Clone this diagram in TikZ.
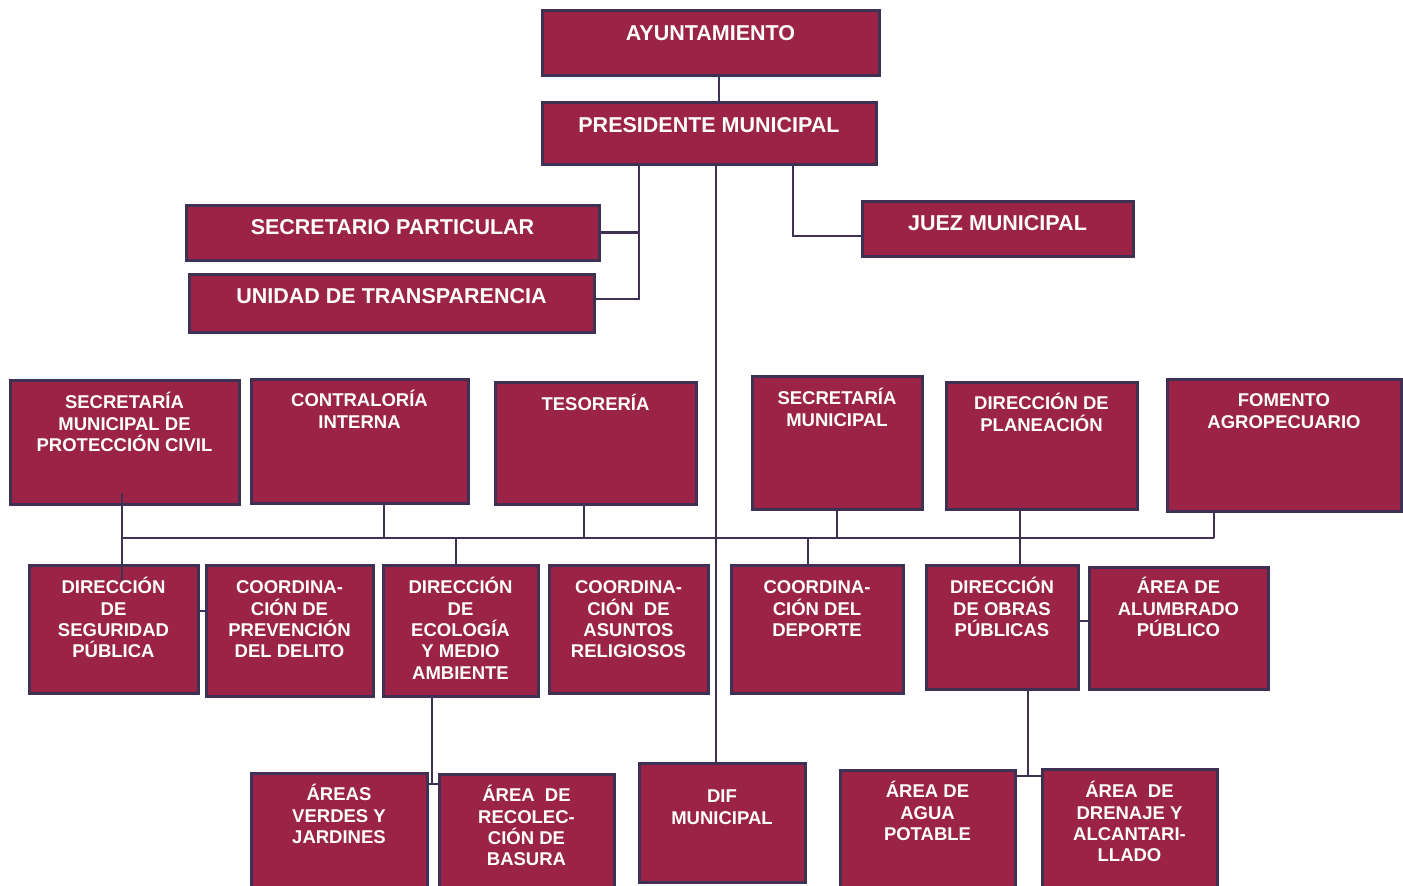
\documentclass[tikz,border=0pt]{standalone}
\usepackage{fontspec}
\setmainfont{Liberation Sans}
\definecolor{boxfill}{HTML}{9B2346}
\definecolor{edgecol}{HTML}{3F3154}
\tikzset{
  orgbox/.style={draw=edgecol, fill=boxfill, line width=3pt, inner sep=0pt, outer sep=0pt},
  lbl/.style={text=white, font=\bfseries\fontsize{18.5}{21.3}\selectfont, align=center, inner sep=0pt, anchor=north},
  biglbl/.style={text=white, font=\bfseries\fontsize{21.5}{25}\selectfont, align=center, inner sep=0pt, anchor=north},
  conn/.style={draw=edgecol, line width=2.8pt}
}
\newcommand\obox[7]{%
  \node[orgbox, minimum width={#4-#2}, minimum height={#5-#3}] (#1) at ({(#2+#4)/2},{(#3+#5)/2}) {};
  \node[lbl] (#1-t) at ({(#2+#4)/2},{#6-11.4}) {\rule{0pt}{18pt}#7};
}
\newcommand\bigobox[7]{%
  \node[orgbox, minimum width={#4-#2}, minimum height={#5-#3}] (#1) at ({(#2+#4)/2},{(#3+#5)/2}) {};
  \node[biglbl] (#1-t) at ({(#2+#4)/2},{#6-13.3}) {\rule{0pt}{21pt}#7};
}
\begin{document}
\begin{tikzpicture}[x=1pt,y=-1pt]
\useasboundingbox (0,0) rectangle (1403,886);
\fill[white] (0,0) rectangle (1403,886);
% top
\bigobox{ayu}{542}{10}{879}{75}{33}{AYUNTAMIENTO}
\bigobox{pres}{542}{102}{876}{164}{125}{PRESIDENTE MUNICIPAL}
\bigobox{secp}{186}{205}{599}{260}{227}{SECRETARIO PARTICULAR}
\bigobox{unid}{189}{274}{594}{332}{296}{UNIDAD DE TRANSPARENCIA}
\bigobox{juez}{862}{201}{1133}{256}{223}{JUEZ MUNICIPAL}
% row 2
\obox{pc}{10}{380}{239}{504}{402}{SECRETARÍA\\MUNICIPAL DE\\PROTECCIÓN CIVIL}
\obox{contra}{251}{379}{468}{503}{400}{CONTRALORÍA\\INTERNA}
\obox{teso}{495}{382}{696}{504}{404}{TESORERÍA}
\obox{secm}{752}{376}{922}{509}{398}{SECRETARÍA\\MUNICIPAL}
\obox{plan}{946}{382}{1137}{509}{403}{DIRECCIÓN DE\\PLANEACIÓN}
\obox{fom}{1167}{379}{1401}{511}{400}{FOMENTO\\AGROPECUARIO}
% row 3
\obox{seg}{29}{565}{198}{693}{587}{DIRECCIÓN\\DE\\SEGURIDAD\\PÚBLICA}
\obox{prev}{206}{565}{373}{696}{587}{COORDINA-\\CIÓN DE\\PREVENCIÓN\\DEL DELITO}
\obox{eco}{383}{565}{538}{696}{587}{DIRECCIÓN\\DE\\ECOLOGÍA\\Y MEDIO\\AMBIENTE}
\obox{rel}{549}{565}{708}{693}{587}{COORDINA-\\CIÓN~~DE\\ASUNTOS\\RELIGIOSOS}
\obox{dep}{731}{565}{903}{693}{587}{COORDINA-\\CIÓN DEL\\DEPORTE}
\obox{obras}{926}{565}{1078}{689}{587}{DIRECCIÓN\\DE OBRAS\\PÚBLICAS}
\obox{alum}{1089}{567}{1268}{689}{587}{ÁREA DE\\ALUMBRADO\\PÚBLICO}
% row 4
\obox{verdes}{251}{773}{427}{892}{794}{ÁREAS\\VERDES Y\\JARDINES}
\obox{basura}{439}{774}{614}{892}{795}{ÁREA~~DE\\RECOLEC-\\CIÓN DE\\BASURA}
\obox{dif}{639}{763}{805}{882}{796}{DIF\\MUNICIPAL}
\obox{agua}{840}{770}{1015}{892}{791}{ÁREA DE\\AGUA\\POTABLE}
\obox{dren}{1042}{769}{1217}{892}{791}{ÁREA~~DE\\DRENAJE Y\\ALCANTARI-\\LLADO}
% coordinates
\coordinate (ay) at (719,0);
\coordinate (lb) at (639,299);
\coordinate (jz) at (793,236);
\coordinate (mv) at (716,0);
\coordinate (busL) at (122,538);
\coordinate (busR) at (1214,538);
\coordinate (bC) at (384,538);
\coordinate (bT) at (584,538);
\coordinate (bS) at (837,538);
\coordinate (bP) at (1020,538);
\coordinate (bE) at (456,538);
\coordinate (bD) at (808,538);
\coordinate (pcT) at (122,493);
\coordinate (pcB) at (122,580);
\coordinate (sgy) at (0,611);
\coordinate (oby) at (0,621);
\coordinate (eJ) at (432,784);
\coordinate (oJ) at (1028,776);
% connectors
\draw[conn] (ay |- ayu.south) -- (ay |- pres.north);
\draw[conn] (lb |- pres.south) -- (lb) -- (lb -| unid.east);
\draw[conn] (secp.east) -- (secp.east -| lb);
\draw[conn] (jz |- pres.south) -- (jz) -- (jz -| juez.west);
\draw[conn] (mv |- pres.south) -- (mv |- dif.north);
\draw[conn] (busL) -- (busR);
\draw[conn] (pcT) -- (pcB);
\draw[conn] (bC |- contra.south) -- (bC);
\draw[conn] (bT |- teso.south) -- (bT);
\draw[conn] (bS |- secm.south) -- (bS);
\draw[conn] (bP |- plan.south) -- (bP |- obras.north);
\draw[conn] (busR |- fom.south) -- (busR);
\draw[conn] (bE) -- (bE |- eco.north);
\draw[conn] (bD) -- (bD |- dep.north);
\draw[conn] (seg.east |- sgy) -- (prev.west |- sgy);
\draw[conn] (obras.east |- oby) -- (alum.west |- oby);
\draw[conn] (eJ |- eco.south) -- (eJ);
\draw[conn] (eJ -| verdes.east) -- (eJ -| basura.west);
\draw[conn] (oJ |- obras.south) -- (oJ);
\draw[conn] (oJ -| agua.east) -- (oJ -| dren.west);
\end{tikzpicture}
\end{document}
